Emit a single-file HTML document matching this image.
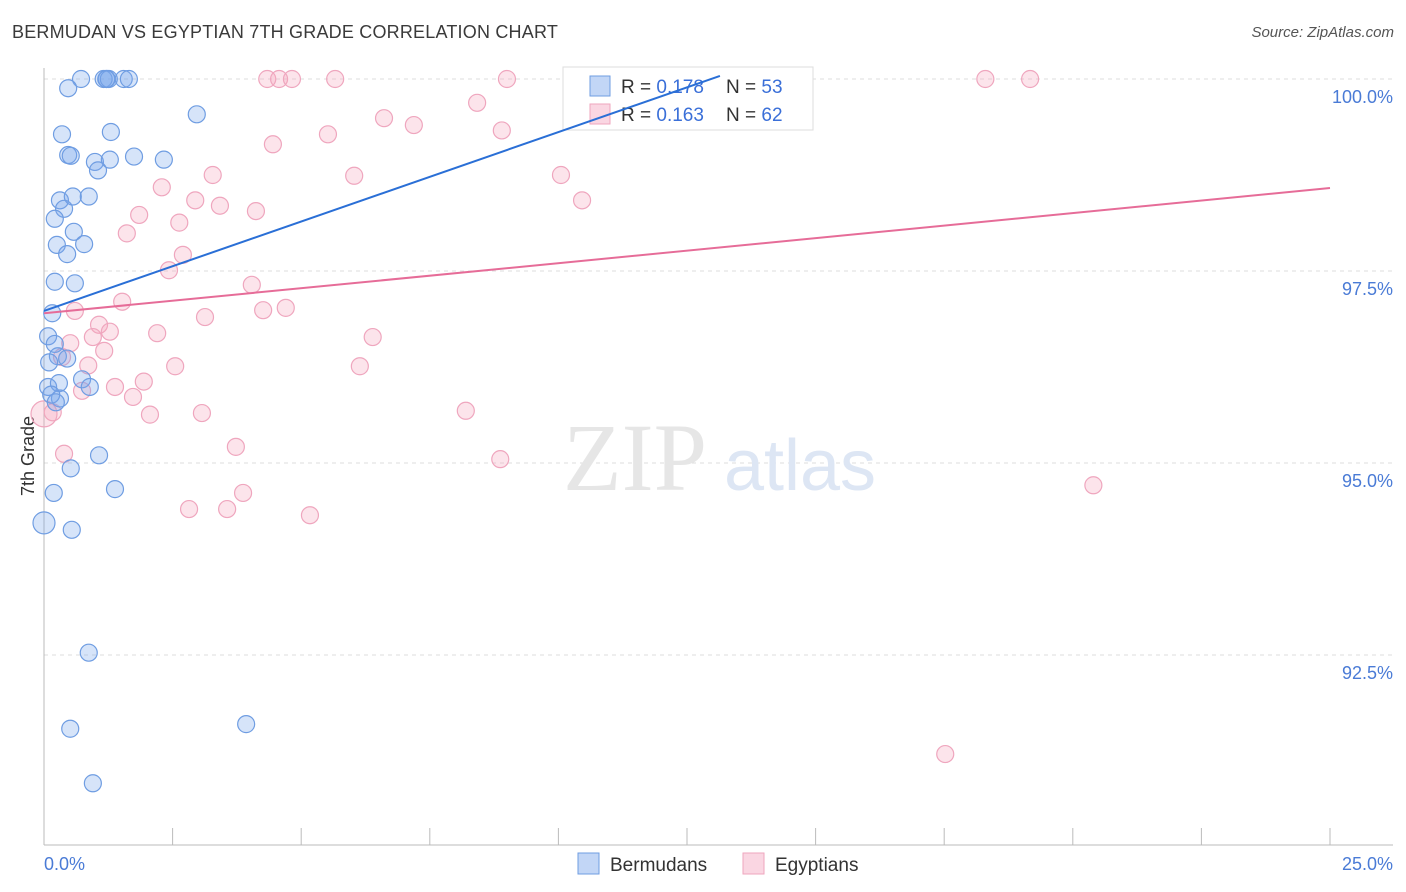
<!DOCTYPE html>
<html><head><meta charset="utf-8"><style>
body{margin:0;background:#fff;font-family:"Liberation Sans",sans-serif;}
#wrap{position:relative;width:1406px;height:892px;overflow:hidden;}
.t{position:absolute;white-space:nowrap;}
</style></head><body>
<div id="wrap">
<div class="t" style="left:12px;top:22px;font-size:18px;color:#3a3a3a;letter-spacing:0.2px">BERMUDAN VS EGYPTIAN 7TH GRADE CORRELATION CHART</div>
<div class="t" style="right:12px;top:24px;font-size:15px;color:#555;font-style:italic">Source: ZipAtlas.com</div>
<svg id="svg" width="1406" height="892" style="position:absolute;left:0;top:0"></svg>
</div>
<script>
const yTicks=[100,97.5,95,92.5];
const yTickLabels=["100.0%","97.5%","95.0%","92.5%"];
const xTickLabels=["0.0%","25.0%"];
const bermX=[0.72,1.22,1.16,1.26,1.55,1.65,0.47,2.97,0.35,1.30,0.47,0.52,0.99,1.28,1.75,2.33,1.05,0.31,0.56,0.87,0.39,0.21,0.58,0.25,0.78,0.45,0.21,0.60,0.16,0.08,0.21,0.27,0.45,0.10,0.08,0.29,0.74,0.89,0.31,0.14,0.23,1.07,0.52,0.19,1.38,0.0,0.54,0.87,0.51,3.93,0.95,13.0,1.21];
const bermY=[100,100,100,100,100,100,99.88,99.54,99.28,99.31,99.01,99.0,98.92,98.95,98.99,98.95,98.81,98.42,98.47,98.47,98.31,98.18,98.01,97.84,97.85,97.72,97.36,97.34,96.95,96.65,96.55,96.39,96.36,96.31,95.99,96.04,96.09,95.99,95.84,95.89,95.79,95.1,94.93,94.61,94.66,94.22,94.13,92.53,91.54,91.6,90.83,100,100];
const egyX=[4.34,4.57,4.82,5.66,9.0,18.3,19.17,8.42,6.61,7.19,8.9,5.52,4.45,3.28,6.03,10.05,2.29,2.94,3.42,10.46,4.12,1.85,2.63,1.61,2.7,2.43,4.04,1.52,4.26,4.7,0.6,3.13,2.2,1.07,1.28,0.95,6.39,0.51,1.17,0.35,0.86,2.55,6.14,1.94,1.38,0.74,1.73,8.2,0.17,2.06,3.07,3.73,0.39,8.87,3.87,20.4,2.82,3.56,5.17,17.52,0.0];
const egyY=[100,100,100,100,100,100,100,99.69,99.49,99.4,99.33,99.28,99.15,98.75,98.74,98.75,98.59,98.42,98.35,98.42,98.28,98.23,98.13,97.99,97.71,97.51,97.32,97.1,96.99,97.02,96.98,96.9,96.69,96.8,96.71,96.64,96.64,96.56,96.46,96.38,96.27,96.26,96.26,96.06,95.99,95.94,95.86,95.68,95.66,95.63,95.65,95.21,95.12,95.05,94.61,94.71,94.4,94.4,94.32,91.21,95.64];
const bermLine=[96.98,100.04,13.14];
const egyLine=[96.95,98.58];
const X=v=>44+v*1286/25, Y=v=>79+(100-v)*192/2.5;
const svg=document.getElementById('svg'),NS='http://www.w3.org/2000/svg';
function mk(t,a,p){const e=document.createElementNS(NS,t);for(const k in a)e.setAttribute(k,a[k]);(p||svg).appendChild(e);return e;}
yTicks.forEach((v,i)=>{
 const g=mk('line',{x1:44,x2:1393,y1:Y(v),y2:Y(v),stroke:'#ddd','stroke-dasharray':'4,4'});
 
 
 const t=mk('text',{x:1393,y:Y(v)+24,'text-anchor':'end','font-size':18,fill:'#4a7bd6','font-family':'Liberation Sans'});
 t.textContent=yTickLabels[i];
 
 
});
const ax=mk('line',{x1:44,x2:44,y1:68,y2:845,stroke:'#bbb'});


const bx=mk('line',{x1:44,x2:1393,y1:845,y2:845,stroke:'#bbb'});


for(let i=0;i<=10;i++){const l=mk('line',{x1:X(i*2.5),x2:X(i*2.5),y1:828,y2:845,stroke:'#bbb'});
 
 }
[[0,'start',44],[25,'end',1393]].forEach((d,i)=>{const t=mk('text',{x:d[2],y:870,'text-anchor':d[1],'font-size':18,fill:'#4a7bd6','font-family':'Liberation Sans'});t.textContent=xTickLabels[i];
 
 });
const yt=mk('text',{x:34,y:456,'text-anchor':'middle','font-size':18,fill:'#333',transform:'rotate(-90 34 456)','font-family':'Liberation Sans'});yt.textContent='7th Grade';


const w1=mk('text',{x:635,y:490,'text-anchor':'middle','font-size':96,fill:'#e6e6e6','font-family':'Liberation Serif'});w1.textContent='ZIP';


const w2=mk('text',{x:800,y:490,'text-anchor':'middle','font-size':72,fill:'#dde6f4','font-family':'Liberation Sans'});w2.textContent='atlas';


egyX.forEach((x,i)=>{const c=mk('circle',{cx:X(x),cy:Y(egyY[i]),r:i==egyX.length-1?13:8.5,fill:'rgba(244,164,190,0.3)',stroke:'#efa6be','stroke-width':1.2});
 
 });
bermX.forEach((x,i)=>{const c=mk('circle',{cx:X(x),cy:Y(bermY[i]),r:i==45?11:8.5,fill:'rgba(120,165,235,0.3)',stroke:'#6f9de2','stroke-width':1.2});
 
 });
const lg=mk('rect',{x:563,y:67,width:250,height:63,fill:'#fff',stroke:'#ddd'});


[['0.178','53','rgba(120,165,235,0.45)','#6f9de2',86],['0.163','62','rgba(244,164,190,0.45)','#efa6be',114]].forEach(d=>{
 const r=mk('rect',{x:590,y:d[4]-10,width:20,height:20,fill:d[2],stroke:d[3]});
 
 
 const t=mk('text',{x:621,y:d[4]+7,'font-size':19,fill:'#333','font-family':'Liberation Sans'});
 t.innerHTML='R = <tspan fill="#3a6fd8">'+d[0]+'</tspan><tspan x="726">N = </tspan><tspan fill="#3a6fd8">'+d[1]+'</tspan>';
 
 
});
const bl=mk('line',{x1:X(0),y1:Y(bermLine[0]),x2:X(bermLine[2]),y2:Y(bermLine[1]),stroke:'#2a6fd6','stroke-width':2});


const el=mk('line',{x1:X(0),y1:Y(egyLine[0]),x2:X(25),y2:Y(egyLine[1]),stroke:'#e66c98','stroke-width':2});


[[578,'Bermudans','rgba(120,165,235,0.45)','#6f9de2'],[743,'Egyptians','rgba(244,164,190,0.45)','#efa6be']].forEach(d=>{
 const r=mk('rect',{x:d[0],y:853,width:21,height:21,fill:d[2],stroke:d[3]});
 
 
 const t=mk('text',{x:d[0]+32,y:871,'font-size':19,fill:'#333','font-family':'Liberation Sans'});t.textContent=d[1];
 
 
});
</script>
</body></html>
